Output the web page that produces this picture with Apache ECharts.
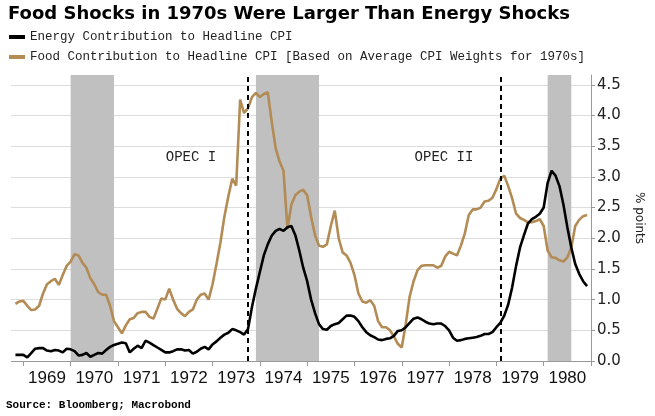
<!DOCTYPE html>
<html>
<head>
<meta charset="utf-8">
<script src="https://cdn.jsdelivr.net/npm/echarts@6/dist/echarts.min.js"></script>
<style>html,body{margin:0;padding:0;background:#fff}#c{width:655px;height:416px}</style>
</head>
<body>
<div id="c"></div>
<script>
// Monthly categories Oct 1968 .. Jan 1981
var months = [];
(function(){ var y=1968, m=10; while (y<1981 || (y===1981 && m<=1)) { months.push(y+'-'+(m<10?'0'+m:m)); m++; if(m>12){m=1;y++;} } })();

// Energy contribution to headline CPI (% points), Nov 1968 .. Dec 1980
var energy = [
  0.1, 0.1,
  0.1, 0.06, 0.13, 0.2, 0.21, 0.21, 0.17, 0.16, 0.18, 0.17, 0.14, 0.2,
  0.19, 0.16, 0.09, 0.1, 0.13, 0.07, 0.1, 0.13, 0.12, 0.18, 0.23, 0.26,
  0.28, 0.3, 0.29, 0.14, 0.2, 0.25, 0.21, 0.33, 0.3, 0.26, 0.22, 0.18,
  0.14, 0.14, 0.16, 0.19, 0.19, 0.17, 0.18, 0.12, 0.15, 0.2, 0.23, 0.19,
  0.27, 0.32, 0.38, 0.43, 0.46, 0.52, 0.5, 0.47, 0.43, 0.52, 0.88, 1.18,
  1.45, 1.72, 1.9, 2.04, 2.12, 2.15, 2.12, 2.18, 2.2, 2.05, 1.8, 1.52,
  1.3, 1.0, 0.78, 0.6, 0.52, 0.51, 0.57, 0.6, 0.62, 0.68, 0.74, 0.74,
  0.72, 0.65, 0.55, 0.47, 0.42, 0.39, 0.35, 0.34, 0.36, 0.37, 0.41, 0.49,
  0.5, 0.55, 0.62, 0.69, 0.71, 0.68, 0.64, 0.61, 0.6, 0.61, 0.61, 0.57,
  0.5, 0.38, 0.33, 0.34, 0.36, 0.37, 0.38, 0.39, 0.41, 0.44, 0.44, 0.47,
  0.55, 0.62, 0.74, 0.92, 1.2, 1.55, 1.85, 2.05, 2.24, 2.31, 2.35, 2.4,
  2.5, 2.9, 3.1, 3.02, 2.85, 2.55, 2.18, 1.85, 1.58, 1.42, 1.3, 1.22
];
// Food contribution to headline CPI (% points), Nov 1968 .. Dec 1980
var food = [
  0.93, 0.97,
  0.98, 0.9, 0.83, 0.84, 0.9, 1.1, 1.25, 1.3, 1.34, 1.24, 1.4, 1.55,
  1.62, 1.74, 1.72, 1.6, 1.52, 1.35, 1.25, 1.12, 1.08, 1.08, 0.9, 0.65,
  0.55, 0.45, 0.58, 0.68, 0.7, 0.78, 0.8, 0.8, 0.72, 0.69, 0.85, 1.02,
  1.0, 1.18, 1.0, 0.85, 0.78, 0.73, 0.8, 0.84, 1.0, 1.08, 1.1, 1.0,
  1.25, 1.58, 1.93, 2.35, 2.68, 2.97, 2.86, 4.26, 4.04, 4.12, 4.3, 4.37,
  4.3, 4.35, 4.38, 3.9, 3.47, 3.25, 3.1, 2.15, 2.55, 2.7, 2.76, 2.79,
  2.7, 2.35, 2.05, 1.88, 1.86, 1.9, 2.2, 2.45, 2.0, 1.77, 1.72, 1.6,
  1.4, 1.1, 0.97, 0.95, 0.99, 0.9, 0.65, 0.55, 0.55, 0.5, 0.4, 0.28,
  0.22, 0.6, 1.05, 1.3, 1.48, 1.55, 1.56, 1.56, 1.56, 1.52, 1.55, 1.7,
  1.78, 1.75, 1.72, 1.88, 2.08, 2.38, 2.47, 2.47, 2.5, 2.6, 2.61, 2.66,
  2.8, 2.97, 3.02, 2.85, 2.65, 2.4, 2.33, 2.3, 2.26, 2.26, 2.28, 2.31,
  2.2, 1.8, 1.69, 1.68, 1.64, 1.62, 1.69, 1.85, 2.2, 2.3, 2.36, 2.38
];
var recessions = [['1970-01','1970-12'], ['1973-12','1975-04'], ['1980-02','1980-08']];
var shocks = ['1973-10', '1979-02'];
var yTicks = [0, 0.5, 1, 1.5, 2, 2.5, 3, 3.5, 4, 4.5];

var energyData = [null].concat(energy, [null]);
var foodData = [null].concat(food, [null]);

var nameE = 'Energy Contribution to Headline CPI';
var nameF = 'Food Contribution to Headline CPI [Based on Average CPI Weights for 1970s]';

var chart = echarts.init(document.getElementById('c'), null, {renderer: 'canvas'});
chart.setOption({
  animation: false,
  backgroundColor: '#fff',
  title: {
    text: 'Food Shocks in 1970s Were Larger Than Energy Shocks',
    left: 3, top: 0,
    textStyle: {fontFamily: 'DejaVu Sans', fontWeight: 'bold', fontSize: 18, color: '#000'}
  },
  legend: {
    data: [nameE, nameF],
    orient: 'vertical', left: 4, top: 25,
    itemWidth: 16, itemHeight: 4, itemGap: 6, icon: 'rect',
    textStyle: {fontFamily: 'Liberation Mono', fontSize: 12.5, color: '#222', lineHeight: 14}
  },
  grid: {left: 11.5, right: 64, top: 75, bottom: 55},
  xAxis: {
    type: 'category', data: months, boundaryGap: false,
    axisLine: {lineStyle: {color: '#999', width: 1}},
    axisTick: {show: true, length: 5, interval: function(i, v){ return v.slice(5) === '01'; }, lineStyle: {color: '#999'}},
    axisLabel: {interval: function(i, v){ return v.slice(5) === '07'; }, formatter: function(v){ return v.slice(0,4); },
      fontFamily: 'Liberation Sans Narrow, Liberation Sans', fontSize: 17, color: '#111', margin: 9},
    splitLine: {show: false}
  },
  yAxis: {
    type: 'value', position: 'right', min: 0, max: 4.66, interval: 0.5,
    axisLine: {show: true, lineStyle: {color: '#999'}},
    axisTick: {show: true, length: 4, lineStyle: {color: '#999'}},
    axisLabel: {showMaxLabel: false, margin: 6, fontFamily: 'DejaVu Sans', fontSize: 15, color: '#222',
      formatter: function(v){ return yTicks.indexOf(Math.round(v*10)/10) >= 0 ? v.toFixed(1) : ''; }},
    splitLine: {show: true, showMaxLine: false, showMinLine: false, lineStyle: {type: 'dotted', color: '#bbb'}},
    name: '% points', nameLocation: 'middle', nameRotate: -90, nameGap: 42,
    nameTextStyle: {fontFamily: 'DejaVu Sans', fontSize: 12, color: '#222'}
  },
  series: [
    {
      name: 'markers', type: 'line', data: [], z: 1, silent: true,
      markArea: {silent: true, itemStyle: {color: '#c0c0c0'},
        data: recessions.map(function(r){ return [{xAxis: r[0]}, {xAxis: r[1]}]; })},
      markLine: {silent: true, symbol: 'none', label: {show: false},
        lineStyle: {type: [5, 4], color: '#000', width: 2},
        data: shocks.map(function(s){ return {xAxis: s}; })}
    },
    {
      name: nameF, type: 'line', data: foodData, z: 3, showSymbol: false, symbol: 'none',
      lineStyle: {color: '#b38b55', width: 2.6}, itemStyle: {color: '#b38b55'}
    },
    {
      name: nameE, type: 'line', data: energyData, z: 4, showSymbol: false, symbol: 'none',
      lineStyle: {color: '#000', width: 2.6}, itemStyle: {color: '#000'}
    }
  ],
  graphic: [
    {type: 'text', x: 191, y: 157, style: {text: 'OPEC I', font: '14px "Liberation Mono"', fill: '#222', textAlign: 'center', textVerticalAlign: 'middle'}},
    {type: 'text', x: 444, y: 157, style: {text: 'OPEC II', font: '14px "Liberation Mono"', fill: '#222', textAlign: 'center', textVerticalAlign: 'middle'}},
    {type: 'text', x: 6, y: 405, style: {text: 'Source: Bloomberg; Macrobond', font: 'bold 11px "Liberation Mono"', fill: '#000', textAlign: 'left', textVerticalAlign: 'middle'}}
  ]
});
</script>
</body>
</html>
